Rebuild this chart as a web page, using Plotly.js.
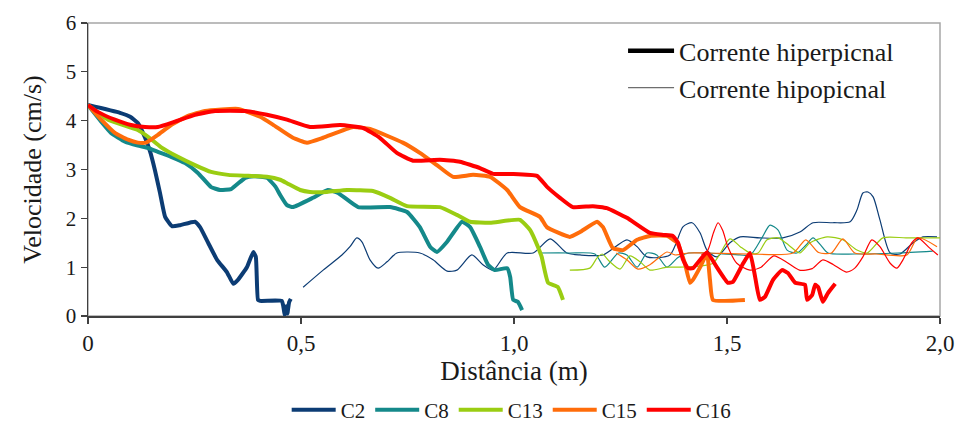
<!DOCTYPE html>
<html>
<head>
<meta charset="utf-8">
<script src="https://cdn.plot.ly/plotly-3.0.1.min.js"></script>
<style>
  html, body { margin: 0; padding: 0; background: #fff; }
  #chart { width: 960px; height: 425px; }
</style>
</head>
<body>
<div id="chart"></div>
<script>
// ---- Data ----
const seriesNames = ["C2", "C8", "C13", "C15", "C16"];
const xTickVals = [0, 0.5, 1.0, 1.5, 2.0];
const xTickText = ["0", "0,5", "1,0", "1,5", "2,0"];
const yTickVals = [0, 1, 2, 3, 4, 5, 6];

// Corrente hiperpicnal (thick lines)
const c2HiperX = [0, 0.075, 0.099, 0.117, 0.134, 0.146, 0.157, 0.169, 0.181, 0.197, 0.216, 0.251, 0.263, 0.282, 0.303, 0.326, 0.341, 0.352, 0.373, 0.388, 0.394, 0.399, 0.404, 0.455, 0.458, 0.462, 0.465, 0.468, 0.472, 0.476];
const c2HiperY = [4.32, 4.16, 4.08, 3.95, 3.65, 3.36, 2.99, 2.52, 2.03, 1.84, 1.86, 1.93, 1.82, 1.50, 1.15, 0.90, 0.66, 0.74, 1.00, 1.31, 1.21, 0.33, 0.31, 0.31, 0.22, 0.02, 0.20, 0.05, 0.28, 0.35];

const c8HiperX = [0, 0.031, 0.054, 0.087, 0.117, 0.141, 0.164, 0.195, 0.228, 0.258, 0.289, 0.310, 0.336, 0.369, 0.390, 0.420, 0.440, 0.451, 0.467, 0.481, 0.528, 0.563, 0.587, 0.634, 0.709, 0.749, 0.779, 0.803, 0.819, 0.843, 0.878, 0.897, 0.920, 0.939, 0.955, 0.984, 0.991, 0.998, 1.009, 1.019];
const c8HiperY = [4.32, 3.98, 3.75, 3.57, 3.49, 3.44, 3.36, 3.26, 3.13, 2.93, 2.64, 2.58, 2.60, 2.83, 2.86, 2.83, 2.65, 2.48, 2.27, 2.23, 2.42, 2.58, 2.52, 2.23, 2.23, 2.13, 1.82, 1.42, 1.31, 1.52, 1.93, 1.82, 1.42, 1.05, 0.94, 0.98, 0.80, 0.33, 0.29, 0.12];

const c13HiperX = [0, 0.047, 0.117, 0.141, 0.171, 0.211, 0.251, 0.289, 0.329, 0.376, 0.420, 0.451, 0.467, 0.498, 0.521, 0.561, 0.608, 0.669, 0.709, 0.749, 0.826, 0.866, 0.897, 0.944, 1.014, 1.038, 1.056, 1.065, 1.080, 1.103, 1.115];
const c13HiperY = [4.32, 4.02, 3.81, 3.67, 3.46, 3.26, 3.09, 2.95, 2.89, 2.87, 2.85, 2.79, 2.72, 2.58, 2.54, 2.54, 2.58, 2.56, 2.42, 2.25, 2.23, 2.07, 1.93, 1.91, 1.97, 1.76, 1.42, 1.21, 0.68, 0.59, 0.33];

const c15HiperX = [0, 0.031, 0.063, 0.094, 0.117, 0.136, 0.164, 0.195, 0.235, 0.275, 0.352, 0.404, 0.434, 0.481, 0.514, 0.552, 0.622, 0.662, 0.739, 0.779, 0.819, 0.857, 0.904, 0.944, 0.984, 1.014, 1.061, 1.077, 1.131, 1.155, 1.195, 1.209, 1.232, 1.256, 1.289, 1.319, 1.359, 1.383, 1.401, 1.413, 1.420, 1.437, 1.453, 1.460, 1.467, 1.542];
const c15HiperY = [4.32, 4.02, 3.75, 3.61, 3.55, 3.55, 3.71, 3.91, 4.10, 4.20, 4.24, 4.08, 3.92, 3.65, 3.55, 3.65, 3.87, 3.83, 3.55, 3.34, 3.09, 2.85, 2.89, 2.85, 2.58, 2.23, 2.03, 1.82, 1.62, 1.72, 1.93, 1.82, 1.39, 1.35, 1.56, 1.64, 1.64, 1.50, 1.08, 0.68, 0.74, 1.00, 1.28, 0.74, 0.33, 0.33];

const c16HiperX = [0, 0.023, 0.063, 0.101, 0.134, 0.164, 0.204, 0.251, 0.298, 0.369, 0.420, 0.467, 0.521, 0.592, 0.646, 0.685, 0.725, 0.763, 0.826, 0.873, 0.920, 0.951, 0.998, 1.054, 1.077, 1.108, 1.138, 1.185, 1.218, 1.265, 1.319, 1.350, 1.373, 1.385, 1.397, 1.408, 1.420, 1.453, 1.476, 1.502, 1.514, 1.538, 1.554, 1.566, 1.577, 1.589, 1.608, 1.629, 1.643, 1.660, 1.683, 1.688, 1.700, 1.707, 1.714, 1.725, 1.737, 1.754];
const c16HiperY = [4.32, 4.18, 4.02, 3.91, 3.87, 3.87, 3.98, 4.12, 4.20, 4.20, 4.12, 4.02, 3.87, 3.91, 3.85, 3.65, 3.34, 3.18, 3.20, 3.16, 3.03, 2.91, 2.91, 2.87, 2.65, 2.42, 2.23, 2.25, 2.21, 2.01, 1.70, 1.66, 1.64, 1.50, 1.15, 0.98, 0.98, 1.30, 1.00, 0.68, 0.70, 1.08, 1.29, 0.80, 0.33, 0.39, 0.74, 0.94, 0.88, 0.68, 0.64, 0.33, 0.43, 0.64, 0.59, 0.29, 0.47, 0.66];

// Corrente hipopicnal (thin lines)
const c2HipoX = [0.505, 0.552, 0.596, 0.615, 0.631, 0.643, 0.662, 0.681, 0.702, 0.725, 0.779, 0.810, 0.843, 0.866, 0.901, 0.927, 0.951, 0.984, 1.045, 1.085, 1.124, 1.155, 1.209, 1.265, 1.289, 1.312, 1.366, 1.397, 1.418, 1.437, 1.453, 1.476, 1.507, 1.531, 1.577, 1.631, 1.671, 1.702, 1.749, 1.789, 1.805, 1.819, 1.831, 1.843, 1.859, 1.883, 1.906, 1.937, 1.960, 1.993];
const c2HipoY = [0.59, 0.94, 1.25, 1.42, 1.60, 1.52, 1.15, 0.98, 1.11, 1.29, 1.29, 1.15, 0.92, 0.94, 1.25, 1.05, 0.94, 1.29, 1.29, 1.58, 1.29, 1.25, 1.25, 1.56, 1.42, 1.21, 1.25, 1.83, 1.91, 1.70, 1.35, 1.21, 1.50, 1.62, 1.60, 1.60, 1.72, 1.91, 1.91, 1.93, 2.17, 2.52, 2.54, 2.44, 1.97, 1.29, 1.27, 1.50, 1.62, 1.62];

const c8HipoX = [1.06, 1.13, 1.19, 1.213, 1.245, 1.265, 1.289, 1.312, 1.335, 1.359, 1.385, 1.41, 1.53, 1.555, 1.582, 1.601, 1.620, 1.641, 1.664, 1.685, 1.702, 1.72, 1.737, 1.80, 1.90, 1.983];
const c8HipoY = [1.29, 1.29, 1.27, 1.00, 1.29, 1.25, 1.00, 1.29, 1.25, 1.00, 1.20, 1.29, 1.25, 1.25, 1.60, 1.86, 1.76, 1.35, 1.29, 1.45, 1.60, 1.45, 1.29, 1.27, 1.29, 1.33];

const c13HipoX = [1.131, 1.178, 1.195, 1.207, 1.225, 1.249, 1.272, 1.296, 1.319, 1.359, 1.39, 1.467, 1.507, 1.531, 1.554, 1.573, 1.594, 1.620, 1.645, 1.671, 1.695, 1.735, 1.772, 1.805, 1.829, 1.866, 1.92, 2.0];
const c13HipoY = [0.94, 0.98, 1.19, 1.27, 1.11, 0.96, 1.23, 1.11, 0.94, 1.00, 1.00, 1.08, 1.58, 1.42, 1.29, 1.29, 1.56, 1.60, 1.45, 1.29, 1.50, 1.62, 1.56, 1.35, 1.29, 1.60, 1.60, 1.60];

const c15HipoX = [1.24, 1.265, 1.291, 1.319, 1.359, 1.378, 1.41, 1.45, 1.55, 1.655, 1.685, 1.715, 1.745, 1.772, 1.80, 1.85, 1.922, 1.948, 1.993];
const c15HipoY = [1.29, 1.15, 0.96, 1.05, 1.31, 1.25, 1.29, 1.29, 1.27, 1.29, 1.56, 1.30, 1.29, 1.58, 1.29, 1.27, 1.25, 1.60, 1.42];

const c16HipoX = [1.44, 1.455, 1.468, 1.479, 1.49, 1.502, 1.523, 1.554, 1.58, 1.61, 1.64, 1.67, 1.70, 1.725, 1.75, 1.78, 1.80, 1.819, 1.840, 1.859, 1.883, 1.899, 1.913, 1.934, 1.948, 1.976, 1.995];
const c16HipoY = [1.25, 1.35, 1.70, 1.91, 1.75, 1.42, 1.08, 0.94, 1.00, 1.23, 1.10, 0.94, 0.97, 1.15, 1.05, 0.90, 0.98, 1.21, 1.56, 1.42, 1.08, 0.98, 1.15, 1.50, 1.60, 1.39, 1.25];

const seriesColors = ["#0c3c74", "#14898a", "#9acd12", "#ff6c0a", "#ff0000"];

// ---- Build traces ----
const hiperX = [c2HiperX, c8HiperX, c13HiperX, c15HiperX, c16HiperX];
const hiperY = [c2HiperY, c8HiperY, c13HiperY, c15HiperY, c16HiperY];
const hipoX = [c2HipoX, c8HipoX, c13HipoX, c15HipoX, c16HipoX];
const hipoY = [c2HipoY, c8HipoY, c13HipoY, c15HipoY, c16HipoY];

const traces = [];
for (let i = 0; i < seriesNames.length; i++) {
  traces.push({
    x: hipoX[i], y: hipoY[i], type: "scatter", mode: "lines",
    line: {color: seriesColors[i], width: 1.2, shape: "spline", smoothing: 0.7},
    showlegend: false, hoverinfo: "skip"
  });
}
for (let i = 0; i < seriesNames.length; i++) {
  traces.push({
    x: hiperX[i], y: hiperY[i], type: "scatter", mode: "lines",
    name: seriesNames[i],
    line: {color: seriesColors[i], width: 4, shape: "spline", smoothing: 0.4},
    legend: "legend"
  });
}
// Style legend (thick = hiperpicnal, thin = hipopicnal)
traces.push({x: [null], y: [null], type: "scatter", mode: "lines", name: "Corrente hiperpicnal",
  line: {color: "#000000", width: 4.5}, legend: "legend2", showlegend: true});
traces.push({x: [null], y: [null], type: "scatter", mode: "lines", name: "Corrente hipopicnal",
  line: {color: "#6e6e6e", width: 1.2}, legend: "legend2", showlegend: true});

const fontFam = "Liberation Serif, Times New Roman, serif";

const layout = {
  width: 960, height: 425,
  margin: {l: 88, r: 20, t: 23, b: 109, autoexpand: false},
  paper_bgcolor: "#ffffff", plot_bgcolor: "#ffffff",
  font: {family: fontFam, color: "#1a1a1a", size: 20},
  xaxis: {
    range: [0, 2.0], tickvals: xTickVals, ticktext: xTickText,
    showgrid: false, zeroline: false,
    showline: true, linecolor: "#404040", linewidth: 1.5,
    ticks: "outside", ticklen: 6, tickcolor: "#404040", tickwidth: 1.2,
    tickfont: {size: 23, family: fontFam},
    title: {text: "Distância (m)", font: {size: 27, family: fontFam}, standoff: 6}
  },
  yaxis: {
    range: [0, 6], tickvals: yTickVals,
    showgrid: false, zeroline: false,
    showline: true, linecolor: "#404040", linewidth: 1.5,
    ticks: "outside", ticklen: 6, tickcolor: "#404040", tickwidth: 1.2,
    tickfont: {size: 21, family: fontFam},
    title: {text: "Velocidade (cm/s)", font: {size: 26, family: fontFam}, standoff: 16}
  },
  shapes: [{
    type: "rect", xref: "paper", yref: "paper", x0: 0, x1: 1, y0: 0, y1: 1,
    line: {color: "#a6a6a6", width: 1.5}, layer: "below"
  }],
  legend: {
    orientation: "h", xref: "container", yref: "container",
    x: 0.533, xanchor: "center", y: 0.035, yanchor: "middle",
    font: {size: 21, family: fontFam}, bgcolor: "rgba(0,0,0,0)",
    itemwidth: 44, traceorder: "normal"
  },
  legend2: {
    x: 0.628, xanchor: "left", y: 0.985, yanchor: "top",
    font: {size: 26, family: fontFam}, bgcolor: "rgba(0,0,0,0)",
    itemwidth: 46, tracegroupgap: 0
  },
  showlegend: true
};

Plotly.newPlot("chart", traces, layout, {displayModeBar: false, staticPlot: true});
</script>
</body>
</html>
